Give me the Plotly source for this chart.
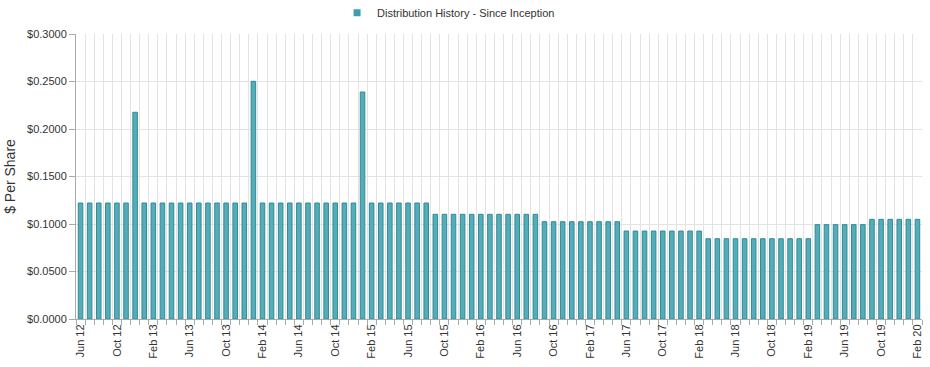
import plotly.graph_objects as go

months = ["Jan", "Feb", "Mar", "Apr", "May", "Jun", "Jul", "Aug", "Sep", "Oct", "Nov", "Dec"]
categories = []
for y in range(2012, 2021):
    for m in range(12):
        if (y == 2012 and m < 5) or (y == 2020 and m > 1):
            continue
        categories.append(f"{months[m]} {str(y)[2:]}")

values = (
    [0.1221] * 6 + [0.2176] + [0.1221] * 12 + [0.2502] + [0.1221] * 11 + [0.2389] + [0.1221] * 7
    + [0.1102] * 12 + [0.1024] * 9 + [0.0926] * 9 + [0.0845] * 12 + [0.0993] * 6 + [0.1049] * 6
)

series_name = "Distribution History - Since Inception"
tick_idx = list(range(0, len(categories), 4))
tick_text = [categories[i] for i in tick_idx]

fig = go.Figure()
fig.add_trace(go.Bar(
    x=list(range(len(categories))),
    y=values,
    width=0.5,
    name=series_name,
    showlegend=False,
    marker=dict(color="#55adb9", line=dict(color="#2f8b97", width=1)),
    customdata=categories,
    hovertemplate="%{customdata}: $%{y:.4f}<extra></extra>",
))
# legend entry with a small square swatch
fig.add_trace(go.Scatter(
    x=[None], y=[None], mode="markers", name=series_name,
    marker=dict(symbol="square", size=7, color="#3d9fad"),
    showlegend=True, hoverinfo="skip",
))

fig.update_layout(
    width=930, height=367,
    margin=dict(l=76, r=8, t=34, b=48, autoexpand=False),
    paper_bgcolor="white", plot_bgcolor="white",
    font=dict(family="Liberation Sans, Arial, sans-serif", size=11, color="#333333"),
    showlegend=True,
    legend=dict(orientation="h", x=0.3086, xanchor="left", y=1.0745, yanchor="middle",
                font=dict(size=11, color="#333333"), itemwidth=30,
                bgcolor="rgba(0,0,0,0)"),
)

fig.update_xaxes(
    range=[-0.5, len(categories) - 0.5],
    tickmode="array", tickvals=tick_idx, ticktext=tick_text,
    tickangle=-90, showgrid=False, ticks="", automargin=False,
    showline=True, linecolor="#aaaaaa", linewidth=1,
    tickfont=dict(size=11, color="#333333"),
    minor=dict(tick0=-0.5, dtick=1, showgrid=True, gridcolor="#e3e3e3", gridwidth=1,
               ticks="outside", ticklen=5, tickcolor="#aaaaaa"),
    zeroline=False,
)
fig.update_yaxes(
    range=[0, 0.3], dtick=0.05, tickformat="$.4f", automargin=False,
    showgrid=True, gridcolor="#e3e3e3", gridwidth=1,
    ticks="outside", ticklen=6, tickcolor="#aaaaaa",
    showline=True, linecolor="#aaaaaa", linewidth=1,
    zeroline=False,
    tickfont=dict(size=11, color="#333333"),
    title=dict(text="$ Per Share", font=dict(size=14, color="#333333"), standoff=8),
)

fig.write_html("out.html", config={"displayModeBar": False},
               post_script="document.body.style.margin='0px';")
